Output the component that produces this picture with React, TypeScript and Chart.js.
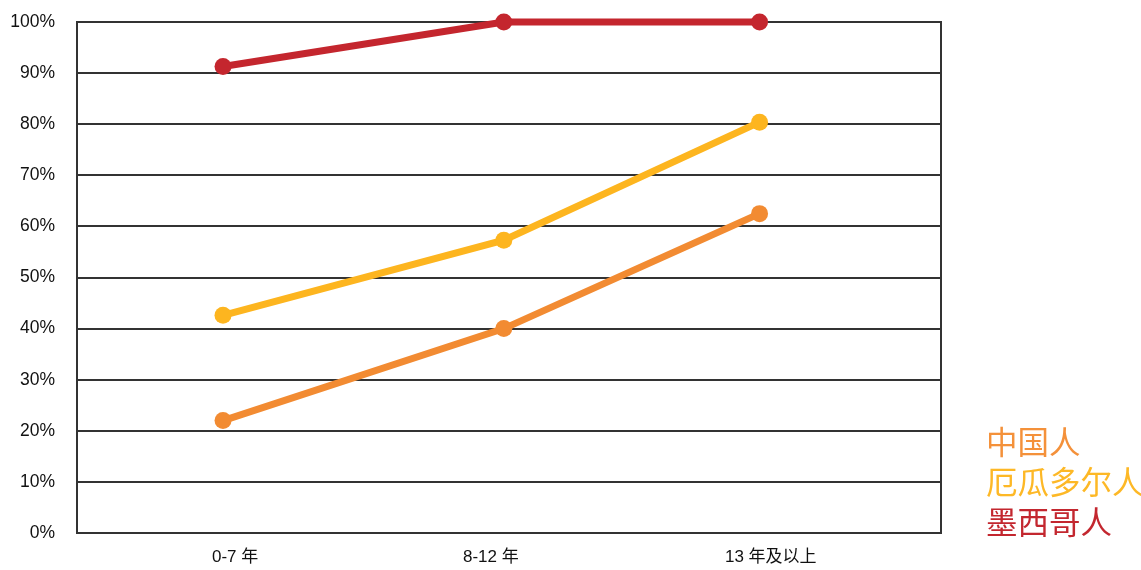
import React, { useEffect, useRef } from "react";
import { Chart, registerables } from "chart.js";

Chart.register(...registerables);

// Tenure groups shown along the bottom axis
const categories = ["0-7 年", "8-12 年", "13 年及以上"];
// Where each group's label sits on the 0–100 horizontal scale
const labelPositions = [18.3, 47.9, 80.3];
// Where each group's points sit on the same scale
const pointPositions = [16.9, 49.4, 79.0];

const seriesNames = ["中国人", "厄瓜多尔人", "墨西哥人"];
const chineseValues = [22, 40, 62.5];
const ecuadorianValues = [42.6, 57.3, 80.4];
const mexicanValues = [91.3, 100, 100];

const seriesColors = ["#f28b32", "#fdb51f", "#c4262e"];
const legendColors = ["#f4913a", "#fdb826", "#c3272f"];

const yTicks = [0, 10, 20, 30, 40, 50, 60, 70, 80, 90, 100];

const latinFont = "'Liberation Sans', Arial, sans-serif";
const cjkFont = "'Liberation Sans', 'Noto Sans CJK SC', sans-serif";

// Outline of the plotting area, drawn beneath the series lines
const framePlugin = {
  id: "frame",
  beforeDatasetsDraw(chart: any) {
    const { ctx, chartArea } = chart;
    ctx.save();
    ctx.strokeStyle = "#333333";
    ctx.lineWidth = 2;
    ctx.strokeRect(
      chartArea.left,
      chartArea.top,
      chartArea.right - chartArea.left,
      chartArea.bottom - chartArea.top
    );
    ctx.restore();
  },
};

export default function App() {
  const canvasRef = useRef<HTMLCanvasElement | null>(null);

  useEffect(() => {
    if (!canvasRef.current) return;
    const allValues = [chineseValues, ecuadorianValues, mexicanValues];
    const datasets = allValues.map((vals, i) => ({
      label: seriesNames[i],
      data: vals.map((v, j) => ({ x: pointPositions[j], y: v })),
      borderColor: seriesColors[i],
      backgroundColor: seriesColors[i],
      pointBackgroundColor: seriesColors[i],
      pointBorderWidth: 0,
      pointRadius: 8.5,
      borderWidth: 7,
      tension: 0,
      clip: false as any,
    }));

    const chart = new Chart(canvasRef.current, {
      type: "line",
      data: { datasets },
      plugins: [framePlugin],
      options: {
        animation: false,
        responsive: true,
        maintainAspectRatio: false,
        layout: { padding: { left: 0, right: 200, top: 22, bottom: 0 } },
        plugins: {
          legend: { display: false },
          tooltip: { enabled: false },
        },
        scales: {
          x: {
            type: "linear",
            min: 0,
            max: 100,
            afterBuildTicks(scale: any) {
              scale.ticks = labelPositions.map((v) => ({ value: v }));
            },
            afterFit(scale: any) {
              scale.height = 37;
            },
            ticks: {
              autoSkip: false,
              maxRotation: 0,
              padding: 14,
              color: "#111111",
              font: { family: cjkFont, size: 17 },
              callback: (_v: any, i: number) => categories[i],
            },
            grid: { display: false, drawTicks: false },
            border: { display: false },
          },
          y: {
            min: 0,
            max: 100,
            afterBuildTicks(scale: any) {
              scale.ticks = yTicks.map((v) => ({ value: v }));
            },
            afterFit(scale: any) {
              scale.width = 77;
              scale.paddingTop = 0;
              scale.paddingBottom = 0;
            },
            ticks: {
              padding: 22,
              color: "#111111",
              font: { family: latinFont, size: 17.5 },
              callback: (v: any) => v + "%",
            },
            grid: { color: "#333333", lineWidth: 2, drawTicks: false },
            border: { display: false },
          },
        },
      },
    });
    return () => chart.destroy();
  }, []);

  return (
    <div
      style={{
        position: "absolute",
        left: 0,
        top: 0,
        width: 1141,
        height: 570,
        background: "#ffffff",
      }}
    >
      <canvas ref={canvasRef} />
      <div
        style={{
          position: "absolute",
          left: 986,
          top: 420,
          whiteSpace: "nowrap",
          fontFamily: "'Noto Sans CJK SC', sans-serif",
          fontSize: 31.5,
          lineHeight: "40px",
        }}
      >
        {seriesNames.map((name, i) => (
          <div key={name} style={{ color: legendColors[i] }}>
            {name}
          </div>
        ))}
      </div>
    </div>
  );
}
